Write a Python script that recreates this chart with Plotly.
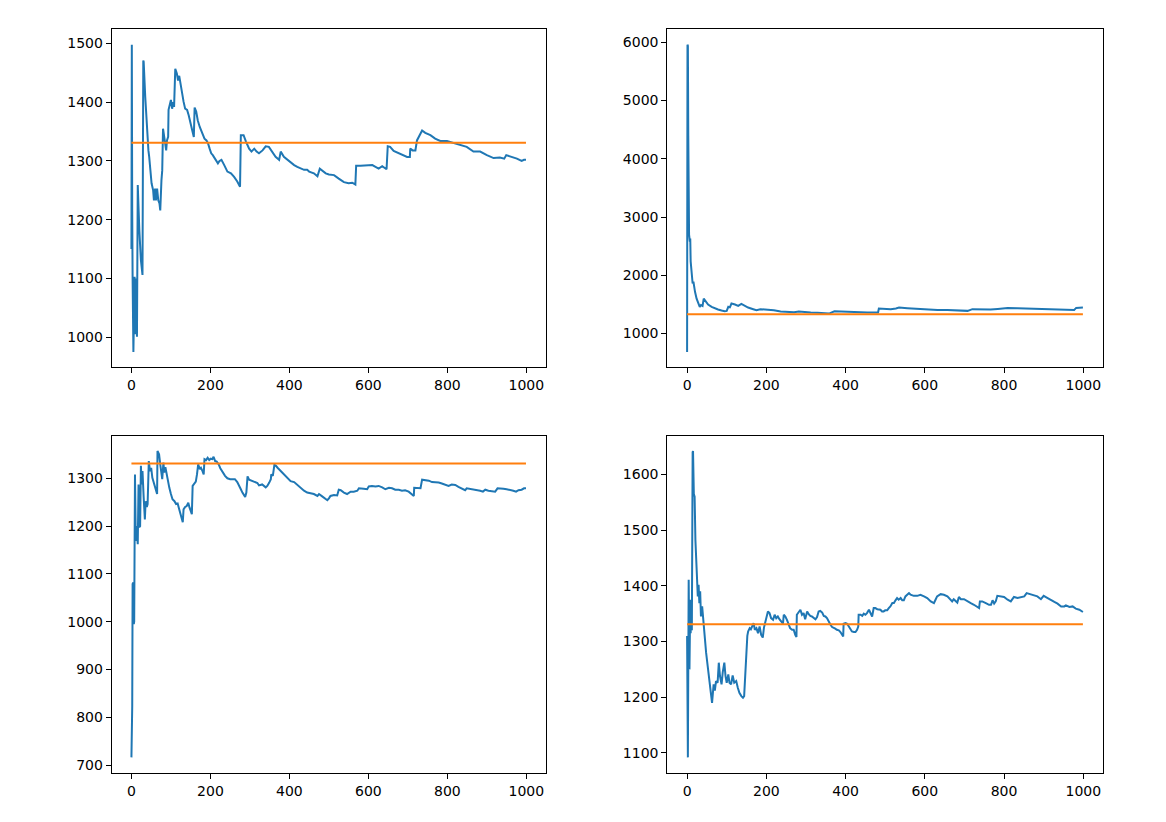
import plotly.graph_objects as go
from plotly.subplots import make_subplots

# running average per run (index, value)
RUN_A_X = [0, 1, 2, 3, 5, 8, 10, 13, 14, 16, 18, 20, 24, 28, 30, 31, 35, 39, 43, 45, 48, 51, 55, 57, 60,
           62, 65, 68, 71, 73, 76, 78, 80, 83, 85, 88, 90, 93, 94, 97, 100, 103, 106, 108, 109, 111, 115,
           118, 121, 124, 128, 132, 136, 141, 145, 149, 153, 158, 160, 164, 168, 173, 177, 181, 185, 190,
           194, 198, 202, 206, 211, 215, 219, 223, 228, 235, 243, 252, 260, 268, 275, 277, 284, 290, 298,
           304, 311, 317, 323, 332, 340, 348, 357, 365, 374, 378, 386, 395, 403, 412, 420, 428, 437, 445,
           450, 462, 471, 477, 483, 492, 500, 513, 525, 538, 550, 559, 567, 569, 580, 597, 610, 618, 626,
           635, 646, 649, 655, 664, 681, 698, 705, 706, 712, 719, 723, 727, 736, 744, 757, 769, 782, 799,
           816, 833, 849, 866, 883, 900, 917, 933, 944, 949, 963, 976, 988, 994, 999]
RUN_A_Y = [1150, 1498, 1215, 1100, 975, 1103, 1005, 1100, 1001, 1259, 1216, 1182, 1131, 1106, 1471, 1469,
           1409, 1352, 1318, 1307, 1284, 1262, 1250, 1233, 1253, 1233, 1253, 1233, 1228, 1216, 1267, 1284,
           1355, 1341, 1327, 1318, 1335, 1341, 1387, 1395, 1404, 1389, 1400, 1392, 1435, 1457, 1449, 1437,
           1445, 1432, 1415, 1401, 1389, 1387, 1378, 1364, 1355, 1341, 1391, 1384, 1369, 1358, 1352, 1347,
           1338, 1335, 1330, 1321, 1313, 1310, 1304, 1299, 1296, 1300, 1302, 1293, 1282, 1279, 1273, 1265,
           1256, 1344, 1344, 1333, 1321, 1316, 1321, 1316, 1313, 1318, 1325, 1324, 1316, 1307, 1302, 1316,
           1307, 1302, 1297, 1293, 1290, 1288, 1285, 1285, 1282, 1279, 1274, 1287, 1284, 1279, 1277, 1276,
           1270, 1264, 1262, 1263, 1260, 1292, 1292, 1292, 1293, 1290, 1287, 1291, 1286, 1325, 1324, 1317,
           1312, 1307, 1307, 1321, 1318, 1318, 1335, 1340, 1352, 1348, 1344, 1338, 1334, 1334, 1331, 1327,
           1324, 1316, 1316, 1310, 1305, 1306, 1304, 1310, 1307, 1304, 1300, 1302, 1302]

RUN_B_X = [0, 1, 2, 3, 4, 5, 7, 8, 9, 12, 14, 16, 18, 20, 24, 28, 32, 35, 39, 42, 46, 53, 62, 70, 78, 87,
           95, 100, 104, 108, 112, 121, 129, 137, 146, 154, 167, 175, 185, 202, 219, 236, 253, 270, 282,
           295, 312, 329, 345, 358, 372, 388, 404, 421, 438, 455, 472, 482, 484, 497, 514, 527, 535, 556,
           581, 607, 632, 657, 674, 691, 708, 720, 741, 766, 784, 809, 834, 859, 884, 910, 944, 977, 982,
           999]
RUN_B_Y = [685, 5960, 5940, 4400, 3270, 2700, 2580, 2630, 2240, 2000, 1860, 1890, 1745, 1717, 1600, 1516,
           1459, 1490, 1476, 1600, 1562, 1499, 1459, 1430, 1413, 1396, 1384, 1390, 1459, 1450, 1516, 1499,
           1476, 1510, 1476, 1447, 1419, 1401, 1419, 1413, 1401, 1378, 1373, 1367, 1378, 1367, 1361, 1356,
           1350, 1344, 1384, 1378, 1373, 1367, 1367, 1361, 1361, 1361, 1430, 1424, 1419, 1430, 1447, 1436,
           1424, 1419, 1407, 1407, 1401, 1398, 1390, 1419, 1413, 1413, 1424, 1441, 1436, 1430, 1419, 1413,
           1413, 1407, 1441, 1447]

RUN_C_X = [0, 2, 3, 5, 6, 7, 9, 11, 13, 14, 16, 18, 20, 22, 24, 26, 28, 31, 34, 36, 39, 41, 44, 47, 50,
           53, 56, 61, 65, 66, 70, 73, 76, 78, 81, 83, 86, 89, 92, 96, 100, 104, 109, 113, 117, 121, 125,
           130, 132, 136, 140, 144, 147, 151, 153, 155, 159, 163, 166, 169, 173, 176, 180, 183, 185, 189,
           193, 197, 201, 205, 208, 212, 216, 221, 225, 231, 237, 243, 250, 256, 262, 268, 273, 277, 281,
           285, 288, 291, 294, 298, 306, 315, 319, 323, 331, 340, 344, 349, 353, 354, 358, 362, 366, 370,
           378, 386, 395, 403, 412, 420, 429, 437, 445, 454, 462, 471, 475, 483, 492, 496, 500, 504, 513,
           521, 525, 530, 538, 546, 555, 563, 572, 576, 588, 597, 601, 609, 618, 626, 635, 643, 652, 660,
           668, 677, 685, 693, 702, 710, 715, 716, 723, 732, 736, 744, 753, 761, 769, 778, 786, 794, 803,
           811, 820, 828, 837, 845, 849, 858, 866, 875, 883, 890, 896, 904, 912, 921, 927, 933, 942, 950,
           959, 967, 974, 980, 988, 994, 999]
RUN_C_Y = [716, 822, 1079, 1082, 995, 1000, 1308, 1169, 1200, 1173, 1162, 1287, 1198, 1200, 1326, 1287,
           1315, 1260, 1214, 1252, 1240, 1246, 1336, 1315, 1322, 1301, 1291, 1277, 1267, 1357, 1350, 1329,
           1315, 1298, 1333, 1312, 1323, 1309, 1298, 1280, 1267, 1256, 1252, 1246, 1247, 1235, 1225, 1208,
           1235, 1240, 1242, 1249, 1239, 1228, 1225, 1284, 1288, 1293, 1308, 1329, 1319, 1322, 1315, 1308,
           1340, 1338, 1343, 1338, 1341, 1340, 1345, 1336, 1335, 1329, 1321, 1312, 1305, 1300, 1298, 1298,
           1298, 1292, 1285, 1277, 1270, 1263, 1261, 1270, 1304, 1297, 1294, 1292, 1290, 1285, 1287, 1281,
           1284, 1291, 1298, 1308, 1305, 1328, 1326, 1322, 1315, 1308, 1301, 1294, 1292, 1286, 1281, 1274,
           1270, 1268, 1267, 1263, 1267, 1262, 1256, 1254, 1258, 1263, 1265, 1264, 1276, 1275, 1270, 1267,
           1272, 1272, 1274, 1279, 1278, 1277, 1283, 1284, 1283, 1284, 1281, 1277, 1280, 1279, 1276, 1276,
           1274, 1275, 1272, 1267, 1263, 1280, 1279, 1279, 1297, 1296, 1295, 1292, 1292, 1291, 1289, 1286,
           1284, 1287, 1286, 1282, 1279, 1275, 1279, 1278, 1277, 1276, 1274, 1272, 1276, 1274, 1273, 1272,
           1279, 1279, 1278, 1277, 1276, 1274, 1272, 1275, 1276, 1279, 1279]

RUN_D_X = [0, 1, 2, 4, 6, 8, 9, 11, 12, 14, 15, 17, 19, 21, 23, 25, 27, 29, 31, 33, 35, 38, 41, 45, 48,
           52, 56, 60, 63, 67, 70, 73, 77, 80, 83, 87, 90, 94, 97, 100, 104, 107, 111, 115, 119, 124, 128,
           132, 137, 141, 144, 148, 149, 152, 154, 158, 161, 164, 168, 171, 175, 179, 183, 187, 191, 194,
           197, 200, 204, 208, 212, 217, 221, 225, 229, 233, 238, 242, 244, 248, 252, 256, 260, 265, 269,
           273, 276, 277, 282, 286, 290, 294, 298, 303, 307, 311, 315, 319, 324, 328, 332, 336, 341, 345,
           349, 353, 357, 362, 366, 370, 374, 378, 383, 387, 391, 394, 395, 400, 404, 408, 412, 416, 421,
           425, 429, 432, 433, 438, 442, 446, 450, 454, 459, 463, 467, 471, 475, 480, 484, 488, 492, 496,
           500, 505, 509, 513, 518, 522, 526, 530, 534, 539, 543, 547, 551, 556, 560, 564, 572, 581, 589,
           598, 606, 615, 623, 627, 631, 640, 648, 657, 665, 669, 673, 678, 682, 686, 691, 699, 707, 716,
           724, 733, 737, 739, 745, 754, 762, 767, 771, 775, 779, 783, 792, 800, 809, 817, 821, 825, 834,
           842, 851, 857, 868, 876, 884, 893, 900, 910, 918, 927, 935, 944, 952, 956, 965, 973, 981, 990,
           999]
RUN_D_Y = [1310, 1113, 1092, 1411, 1250, 1375, 1315, 1370, 1320, 1640, 1642, 1565, 1560, 1482, 1446, 1429,
           1381, 1402, 1369, 1390, 1345, 1363, 1333, 1310, 1280, 1256, 1226, 1208, 1190, 1223, 1212, 1229,
           1226, 1262, 1238, 1223, 1245, 1262, 1238, 1226, 1241, 1226, 1223, 1239, 1226, 1229, 1217, 1208,
           1202, 1199, 1202, 1262, 1280, 1310, 1318, 1324, 1322, 1327, 1333, 1321, 1324, 1315, 1327, 1312,
           1307, 1325, 1333, 1345, 1354, 1351, 1342, 1339, 1348, 1342, 1345, 1340, 1336, 1332, 1348, 1345,
           1339, 1330, 1324, 1321, 1321, 1312, 1308, 1348, 1354, 1357, 1348, 1351, 1340, 1354, 1349, 1346,
           1345, 1342, 1340, 1344, 1354, 1355, 1352, 1346, 1345, 1342, 1336, 1330, 1326, 1325, 1323, 1321,
           1320, 1317, 1312, 1309, 1332, 1333, 1332, 1327, 1323, 1318, 1317, 1317, 1321, 1327, 1348, 1348,
           1346, 1350, 1348, 1351, 1357, 1351, 1345, 1360, 1360, 1358, 1357, 1357, 1354, 1354, 1356, 1356,
           1360, 1363, 1369, 1369, 1374, 1378, 1375, 1378, 1374, 1374, 1381, 1384, 1387, 1384, 1382, 1382,
           1384, 1381, 1378, 1372, 1369, 1375, 1381, 1385, 1384, 1381, 1375, 1372, 1376, 1372, 1370, 1380,
           1376, 1376, 1372, 1369, 1366, 1362, 1360, 1372, 1372, 1369, 1366, 1366, 1374, 1368, 1372, 1382,
           1381, 1380, 1375, 1372, 1376, 1380, 1378, 1380, 1381, 1387, 1384, 1382, 1381, 1376, 1382, 1378,
           1374, 1371, 1368, 1363, 1363, 1365, 1362, 1363, 1359, 1357, 1353]

TARGET = 1331
N_STEPS = 1000
Y_STEPS = [100, 1000, 100, 100]

BLUE = "#1f77b4"
ORANGE = "#ff7f0e"

# axes boxes in page pixels (left, right, top, bottom); the page body adds an 8px margin
PAGE_W, PAGE_H = 1166, 822
BODY = 8
W, H = PAGE_W - BODY, PAGE_H - BODY
BOXES = [(111.7, 545.7, 29.3, 367.3), (667.3, 1102.7, 29.3, 367.3),
         (111.7, 545.7, 435.7, 772.7), (667.3, 1102.7, 435.7, 772.7)]


def padded(lo, hi, frac=0.05):
    """matplotlib-like autoscale margins."""
    pad = (hi - lo) * frac
    return [lo - pad, hi + pad]


def build_figure():
    runs = [(RUN_A_X, RUN_A_Y), (RUN_B_X, RUN_B_Y), (RUN_C_X, RUN_C_Y), (RUN_D_X, RUN_D_Y)]
    fig = make_subplots(rows=2, cols=2)
    axis_style = dict(
        showgrid=False, zeroline=False, showline=True, mirror=True,
        linecolor="black", linewidth=1, ticks="outside", ticklen=5, tickwidth=1,
        tickcolor="black", tickformat="d",
        tickfont=dict(family="DejaVu Sans", size=14, color="black"),
    )
    for i, (xs, ys) in enumerate(runs):
        row, col = i // 2 + 1, i % 2 + 1
        fig.add_trace(go.Scatter(x=xs, y=ys, mode="lines",
                                 line=dict(color=BLUE, width=2)), row=row, col=col)
        fig.add_trace(go.Scatter(x=[0, N_STEPS - 1], y=[TARGET, TARGET], mode="lines",
                                 line=dict(color=ORANGE, width=2)), row=row, col=col)
        lo = min(min(ys), TARGET)
        hi = max(max(ys), TARGET)
        l, r, t, b = [v - BODY for v in BOXES[i]]
        fig.update_xaxes(axis_style, range=padded(0, N_STEPS - 1), tick0=0, dtick=200,
                         domain=[l / W, r / W], row=row, col=col)
        fig.update_yaxes(axis_style, range=padded(lo, hi), tick0=0, dtick=Y_STEPS[i],
                         domain=[1 - b / H, 1 - t / H], row=row, col=col)
    fig.update_layout(
        width=W, height=H, showlegend=False,
        margin=dict(l=0, r=0, t=0, b=0),
        paper_bgcolor="white", plot_bgcolor="white",
    )
    return fig


def main():
    fig = build_figure()
    fig.write_html("out.html")


if __name__ == "__main__":
    main()
